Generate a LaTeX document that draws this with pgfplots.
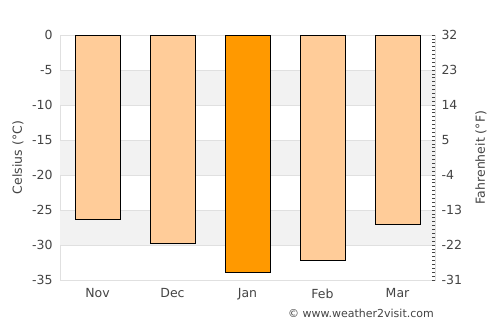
\documentclass[border=0pt]{standalone}
\usepackage{fontspec}
\setmainfont{DejaVu Sans}
\usepackage{pgfplots}
\pgfplotsset{compat=1.18}
\definecolor{lightbar}{HTML}{FFCC99}
\definecolor{darkbar}{HTML}{FF9900}
\definecolor{band}{HTML}{F2F2F2}
\definecolor{gridc}{HTML}{E0E0E0}
\definecolor{txt}{HTML}{444444}
\begin{document}
\begin{tikzpicture}[x=1pt,y=1pt]
\useasboundingbox (0,0) rectangle (500,325);
\begin{axis}[
  at={(60pt,45pt)}, anchor=south west,
  scale only axis, width=375pt, height=245pt,
  xmin=-0.5, xmax=4.5, ymin=-35, ymax=0,
  xtick={0,1,2,3,4}, xticklabels={Nov,Dec,Jan,Feb,Mar},
  ytick={-35,-30,...,0},
  major tick length=0pt,
  axis line style={draw=gridc, line width=0.8pt},
  tick label style={font=\fontsize{12.5}{15}\selectfont, text=txt},
  /pgf/number format/assume math mode=true,
  yticklabel style={xshift=-4pt},
  xticklabel style={yshift=-5pt},
  clip=true,
]
\addplot[fill=band, draw=none] coordinates {(-0.5,-5) (4.5,-5) (4.5,-10) (-0.5,-10)} -- cycle;
\addplot[fill=band, draw=none] coordinates {(-0.5,-15) (4.5,-15) (4.5,-20) (-0.5,-20)} -- cycle;
\addplot[fill=band, draw=none] coordinates {(-0.5,-25) (4.5,-25) (4.5,-30) (-0.5,-30)} -- cycle;
\foreach \v in {-5,-10,...,-30} {
  \edef\tmp{\noexpand\addplot[draw=gridc, line width=0.8pt] coordinates {(-0.5,\v) (4.5,\v)};}
  \tmp
}
\addplot[ybar, bar width=45pt, bar shift=0pt, fill=lightbar, draw=black, line width=0.8pt]
  coordinates {(0,-26.4) (1,-29.8) (3,-32.2) (4,-27.0)};
\addplot[ybar, bar width=45pt, bar shift=0pt, fill=darkbar, draw=black, line width=0.8pt]
  coordinates {(2,-33.9)};
\end{axis}
\begin{axis}[
  at={(60pt,45pt)}, anchor=south west,
  scale only axis, width=375pt, height=245pt,
  xmin=-0.5, xmax=4.5, ymin=-31, ymax=32,
  axis y line*=right, axis x line=none,
  ytick={-31,-22,-13,-4,5,14,23,32},
  minor ytick={-31,-30,...,32},
  major tick length=3pt, minor tick length=3pt,
  tick align=inside,
  tick style={draw=txt, line width=0.6pt},
  axis line style={draw=none},
  tick label style={font=\fontsize{12.5}{15}\selectfont, text=txt},
  /pgf/number format/assume math mode=true,
  yticklabel style={xshift=3pt},
]
\addplot[draw=none] coordinates {(0,0)};
\end{axis}
\node[rotate=90, text=txt, font=\fontsize{12.5}{15}\selectfont] at (18,167.5) {Celsius (°C)};
\node[rotate=90, text=txt, font=\fontsize{12.5}{15}\selectfont] at (481,167.5) {Fahrenheit (°F)};
\node[anchor=east, text=txt, font=\fontsize{11}{13}\selectfont, inner sep=0pt] at (434,12) {© www.weather2visit.com};
\end{tikzpicture}
\end{document}
